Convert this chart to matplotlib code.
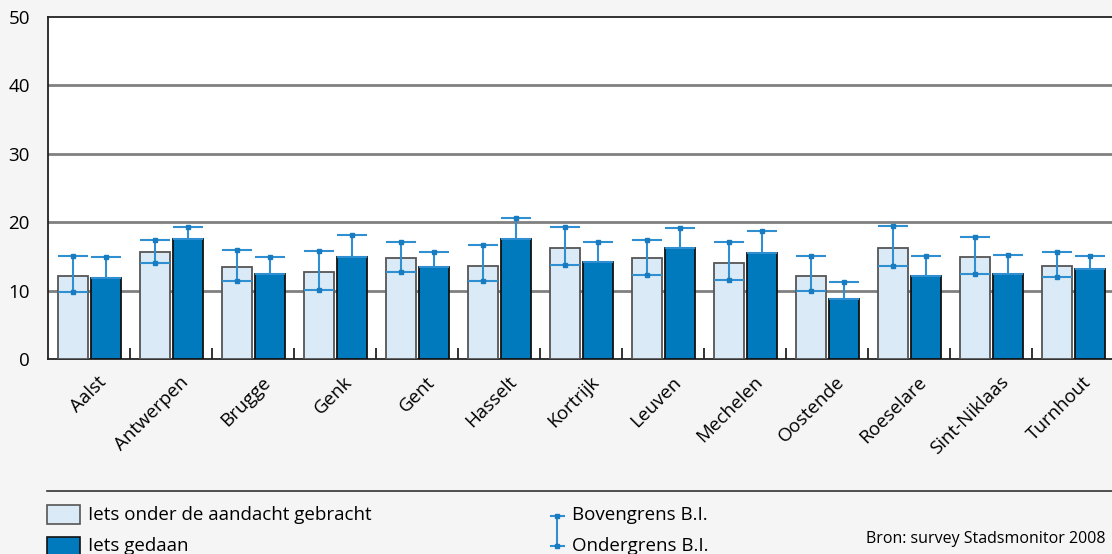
import matplotlib.pyplot as plt
import matplotlib.transforms as mtransforms
import numpy as np

steden = ['Aalst', 'Antwerpen', 'Brugge', 'Genk', 'Gent', 'Hasselt', 'Kortrijk',
          'Leuven', 'Mechelen', 'Oostende', 'Roeselare', 'Sint-Niklaas', 'Turnhout']

# Iets onder de aandacht gebracht
aandacht = [12.1, 15.6, 13.5, 12.7, 14.7, 13.6, 16.3, 14.7, 14.1, 12.2, 16.3, 14.9, 13.6]
aandacht_boven = [15.0, 17.4, 16.0, 15.8, 17.1, 16.6, 19.3, 17.4, 17.1, 15.1, 19.4, 17.8, 15.6]
aandacht_onder = [9.8, 14.0, 11.4, 10.1, 12.7, 11.4, 13.7, 12.3, 11.5, 10.0, 13.6, 12.4, 12.0]

# Iets gedaan
gedaan = [11.9, 17.6, 12.4, 14.9, 13.4, 17.5, 14.2, 16.3, 15.5, 8.7, 12.2, 12.5, 13.2]
gedaan_boven = [14.9, 19.35, 14.9, 18.2, 15.7, 20.6, 17.1, 19.2, 18.7, 11.3, 15.1, 15.2, 15.1]

licht = '#daeaf6'
donker = '#0079bd'
fout = '#2f8fd0'
achtergrond = '#f5f5f5'
lettertype = ['Open Sans', 'DejaVu Sans']

plt.rcParams['font.family'] = lettertype
plt.rcParams['font.size'] = 13

fig = plt.figure(figsize=(11.12, 5.54), dpi=100, facecolor=achtergrond)
ax = fig.add_axes([48 / 1112, 1 - 359 / 554, 1 - 48 / 1112, (359 - 17) / 554])
ax.set_facecolor('white')

x = np.arange(len(steden))
w = 30 / 82
d = 33 / 82 / 2

ax.bar(x - d, aandacht, width=w, color=licht, edgecolor='#555555', linewidth=1.3, zorder=3)
ax.bar(x + d, gedaan, width=w, color=donker, edgecolor='#111111', linewidth=1.3, zorder=3)

a = np.array(aandacht)
g = np.array(gedaan)
ax.errorbar(x - d, a, yerr=[a - np.array(aandacht_onder), np.array(aandacht_boven) - a],
            fmt='none', ecolor=fout, elinewidth=1.5, capsize=10.8, capthick=1.5, zorder=4)
ax.errorbar(x + d, g, yerr=[np.zeros(len(g)), np.array(gedaan_boven) - g],
            fmt='none', ecolor=fout, elinewidth=1.5, capsize=10.8, capthick=1.5, zorder=4)
ax.plot(x - d, aandacht_boven, 's', color='#1a7cc0', ms=3.5, zorder=5)
ax.plot(x - d, aandacht_onder, 's', color='#1a7cc0', ms=3.5, zorder=5)
ax.plot(x + d, gedaan_boven, 's', color='#1a7cc0', ms=3.5, zorder=5)

ax.set_xlim(-0.506, 12.47)
ax.set_ylim(0, 50)
ax.set_yticks([0, 10, 20, 30, 40, 50])
for yv in [10, 20, 30, 40]:
    ax.axhline(yv, color='#808080', lw=2, zorder=1)

ax.spines['right'].set_visible(False)
for s in ['left', 'bottom', 'top']:
    ax.spines[s].set_color('#222222')
    ax.spines[s].set_linewidth(1.3)

ax.tick_params(axis='y', length=0, pad=13, labelsize=13.5)
ax.set_xticks(x)
ax.set_xticklabels(steden, rotation=45, ha='right', rotation_mode='anchor', fontsize=13.5)
ax.tick_params(axis='x', which='major', length=0, pad=10)
ax.set_xticks(x[:-1] + 0.5, minor=True)
ax.tick_params(axis='x', which='minor', direction='in', length=8, width=1.3, color='#222222')
offset = mtransforms.ScaledTranslation(8 / 100, 0, fig.dpi_scale_trans)
for lbl in ax.get_xticklabels():
    lbl.set_transform(lbl.get_transform() + offset)

# legenda onderaan
fig.add_artist(plt.Line2D([47 / 1112, 1], [1 - 491 / 554] * 2, color='#333333', lw=1.2))
fig.add_artist(plt.Rectangle((47 / 1112, 1 - 524 / 554), 33 / 1112, 19 / 554,
                             facecolor=licht, edgecolor='#555555', lw=1.2))
fig.add_artist(plt.Rectangle((47 / 1112, 1 - 556 / 554), 33 / 1112, 19 / 554,
                             facecolor=donker, edgecolor='#111111', lw=1.2))
fig.text(88 / 1112, 1 - 515 / 554, 'Iets onder de aandacht gebracht', va='center', fontsize=13.5)
fig.text(88 / 1112, 1 - 546 / 554, 'Iets gedaan', va='center', fontsize=13.5)

fig.add_artist(plt.Line2D([557 / 1112] * 2, [1 - 516 / 554, 1 - 546 / 554], color=fout, lw=1.5))
for yy in [516, 546]:
    fig.add_artist(plt.Line2D([551 / 1112, 564 / 1112], [1 - yy / 554] * 2, color=fout, lw=1.5))
    fig.add_artist(plt.Line2D([557 / 1112], [1 - yy / 554], marker='s', color='#1a7cc0', ms=3))
fig.text(572 / 1112, 1 - 515 / 554, 'Bovengrens B.I.', va='center', fontsize=13.5)
fig.text(572 / 1112, 1 - 546 / 554, 'Ondergrens B.I.', va='center', fontsize=13.5)
fig.text(1106 / 1112, 1 - 539 / 554, 'Bron: survey Stadsmonitor 2008', va='center', ha='right',
         fontsize=11.5)

fig.savefig('out.png', dpi=100, facecolor=achtergrond)
